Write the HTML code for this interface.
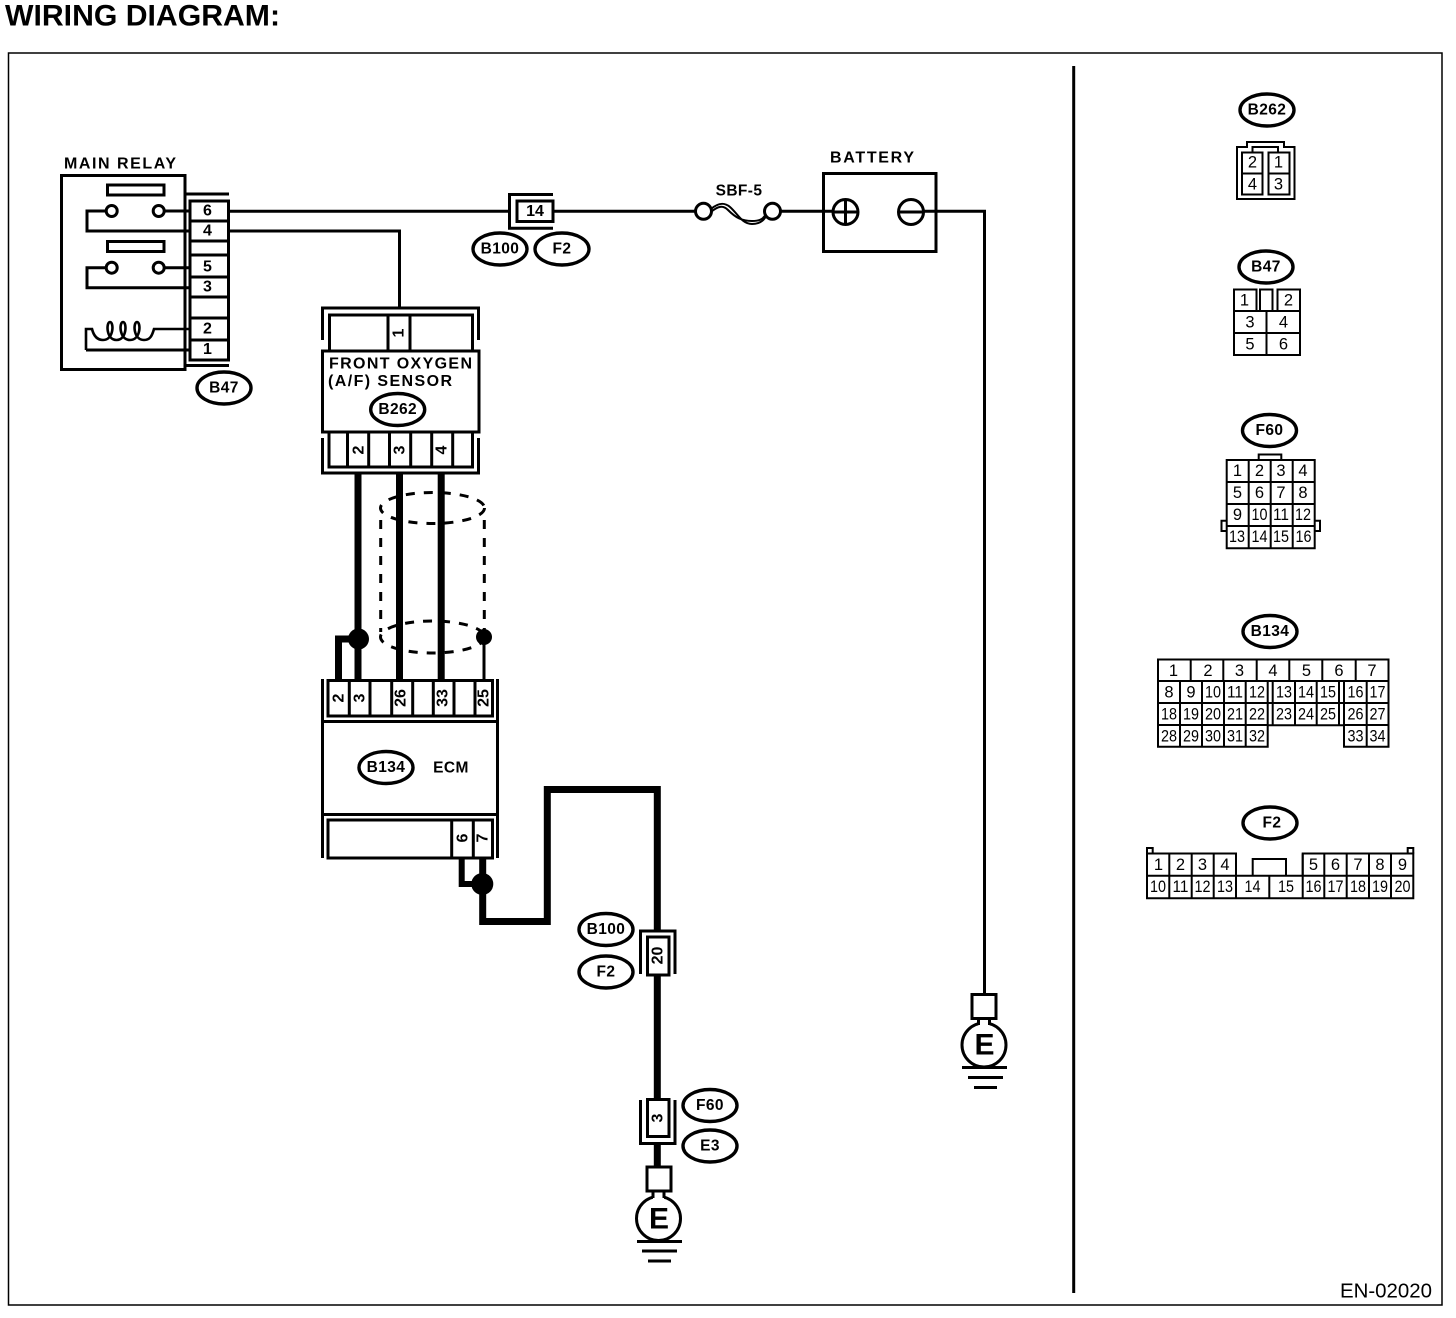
<!DOCTYPE html>
<html>
<head>
<meta charset="utf-8">
<style>
html,body{margin:0;padding:0;background:#fff;}
svg{display:block;}
text{font-family:"Liberation Sans",sans-serif;fill:#000;stroke:none;}
.b{font-weight:bold;font-size:15.5px;letter-spacing:0.4px;text-anchor:middle;dominant-baseline:central;}
.n{font-size:16.5px;text-anchor:middle;dominant-baseline:central;}
.c{font-weight:bold;font-size:16px;text-anchor:middle;dominant-baseline:central;}
.l{font-weight:bold;font-size:16px;}
.g{fill:none;stroke:#000;stroke-width:2;}
.s{fill:#fff;stroke:#000;stroke-width:3;}
.w{fill:none;stroke:#000;stroke-width:3;}
.t{fill:none;stroke:#000;stroke-width:7;}
.o{fill:#fff;stroke:#000;stroke-width:3.4;}
</style>
</head>
<body>
<svg width="1456" height="1318" viewBox="0 0 1456 1318" xmlns="http://www.w3.org/2000/svg">
<rect width="1456" height="1318" fill="#fff"/>
<text x="5" y="25.5" font-size="29.5" font-weight="bold" textLength="275" lengthAdjust="spacingAndGlyphs">WIRING DIAGRAM:</text>
<rect x="8.5" y="53" width="1433.5" height="1252" fill="none" stroke="#000" stroke-width="1.5"/>
<line x1="1073.7" y1="66" x2="1073.7" y2="1293" stroke="#000" stroke-width="3"/>
<text x="1340" y="1297.5" font-size="20" textLength="92" lengthAdjust="spacingAndGlyphs">EN-02020</text>

<!-- Main relay -->
<text x="64" y="168.5" class="l" textLength="112" lengthAdjust="spacing">MAIN RELAY</text>
<rect x="61.5" y="175.5" width="123.5" height="194" class="s"/>
<rect x="107.5" y="185" width="56.5" height="10" class="s"/>
<rect x="107.5" y="241.5" width="56.5" height="10" class="s"/>
<path class="w" d="M105,211H87V231H190M164,211H190"/>
<path class="w" d="M105,267.7H87V287.7H190M164,267.7H190"/>
<circle cx="111.7" cy="211" r="5.5" class="s"/>
<circle cx="158.7" cy="211" r="5.5" class="s"/>
<circle cx="111.7" cy="267.7" r="5.5" class="s"/>
<circle cx="158.7" cy="267.7" r="5.5" class="s"/>
<path fill="none" stroke="#000" stroke-width="2.6" d="M86,350V329H92C94,337 98,340 103,340C114,340 114,322 110,322C106,322 106,340 116.5,340C127,340 127,322 123,322C119,322 119,340 130,340C141,340 141,322 137,322C133,322 133,340 144,340C150,340 152,336 154,329H189"/>
<path class="w" d="M86,350H190"/>
<path class="w" d="M185,194H229M185,365.5H229"/>
<rect x="190" y="201" width="38.5" height="159" class="s"/>
<path class="w" d="M190,221H229M190,241H229M190,255H229M190,277H229M190,297H229M190,318H229M190,340H229"/>
<text x="207.5" y="211" class="c">6</text>
<text x="207.5" y="231" class="c">4</text>
<text x="207.5" y="267" class="c">5</text>
<text x="207.5" y="287" class="c">3</text>
<text x="207.5" y="329" class="c">2</text>
<text x="207.5" y="349.5" class="c">1</text>
<ellipse cx="224" cy="388" rx="27" ry="16" class="o"/>
<text x="224" y="388" class="b">B47</text>

<!-- wires top -->
<path class="w" d="M229,211.3H510M550,211.3H696M772,211.3H846M911,211.3H984.5V994M229,231H399.5V308"/>
<path class="w" d="M553,194.5H509.5V228.3H553"/>
<rect x="517" y="201" width="36" height="20.5" class="s"/>
<text x="535" y="211.5" class="c">14</text>
<ellipse cx="500" cy="249" rx="27" ry="16" class="o"/>
<text x="500" y="249" class="b">B100</text>
<ellipse cx="562" cy="249" rx="27" ry="16" class="o"/>
<text x="562" y="249" class="b">F2</text>

<!-- fuse -->
<text x="739" y="191" class="b" font-size="16" letter-spacing="1">SBF-5</text>
<path class="g" d="M711,209C718,203 724,202 730,207C738,214 742,224 752,224C758,224 763,222 766,216"/>
<path class="g" d="M711,212C718,206 723,205 728,210C736,218 742,221 752,221C758,221 763,220 766,214"/>
<circle cx="703.5" cy="211.3" r="8" class="s"/>
<circle cx="772.5" cy="211.3" r="8" class="s"/>

<!-- battery -->
<text x="830" y="162.5" class="l" textLength="84" lengthAdjust="spacing">BATTERY</text>
<rect x="823.5" y="173.5" width="112.5" height="78" class="w"/>
<circle cx="845.5" cy="212" r="12.5" class="s"/>
<path class="w" d="M845.5,199.5V224.5M833,212H858"/>
<circle cx="911" cy="212" r="12.5" class="s"/>
<path class="w" d="M898.5,212H923.5"/>

<!-- sensor -->
<path class="w" d="M322.5,340V308H478.5V340"/>
<rect x="329.5" y="315" width="143" height="36" class="s"/>
<path class="w" d="M388,315V351M410,315V351"/>
<text x="399" y="333" class="c" transform="rotate(-90 399 333)">1</text>
<rect x="322.5" y="351" width="156.5" height="81" class="s"/>
<text x="329" y="368.5" class="l" textLength="143" lengthAdjust="spacing">FRONT OXYGEN</text>
<text x="328" y="386" class="l" textLength="124" lengthAdjust="spacing">(A/F) SENSOR</text>
<ellipse cx="397.7" cy="409.5" rx="27" ry="16" class="o"/>
<text x="397.7" y="409.5" class="b">B262</text>
<path class="w" d="M322.5,438V473H478.5V438"/>
<rect x="329" y="432" width="143.5" height="35" class="s"/>
<path class="w" d="M347.5,432V467M368.7,432V467M389.5,432V467M410.7,432V467M431.7,432V467M452.7,432V467"/>
<text x="359" y="450" class="c" transform="rotate(-90 359 450)">2</text>
<text x="400" y="450" class="c" transform="rotate(-90 400 450)">3</text>
<text x="442" y="450" class="c" transform="rotate(-90 442 450)">4</text>

<!-- thick wires and shield -->
<path class="t" d="M358,474V681M399.5,474V681M441.2,474V681M338.5,681V639H358"/>
<g fill="none" stroke="#000" stroke-width="3" stroke-dasharray="9 9">
<ellipse cx="432.5" cy="508" rx="52" ry="15.5"/>
<ellipse cx="432.5" cy="637" rx="52" ry="16"/>
<path d="M380.7,520V632M484.3,520V632"/>
</g>
<circle cx="358.5" cy="639" r="10.5" fill="#000"/>
<circle cx="484" cy="637" r="8" fill="#000"/>
<path class="w" d="M484,637V681"/>

<!-- ECM -->
<path class="w" d="M322.5,679V722M497.5,679V722"/>
<rect x="328" y="680.5" width="164.5" height="35.5" class="s"/>
<path class="w" d="M349.3,680V716M370,680V716M391.7,680V716M412.7,680V716M433.3,680V716M454,680V716M475,680V716"/>
<text x="339" y="698" class="c" transform="rotate(-90 339 698)">2</text>
<text x="360" y="698" class="c" transform="rotate(-90 360 698)">3</text>
<text x="401" y="698" class="c" transform="rotate(-90 401 698)">26</text>
<text x="443" y="698" class="c" transform="rotate(-90 443 698)">33</text>
<text x="484" y="698" class="c" transform="rotate(-90 484 698)">25</text>
<rect x="322.5" y="721.5" width="175" height="93" class="s"/>
<ellipse cx="386" cy="767.5" rx="27" ry="16" class="o"/>
<text x="386" y="767.5" class="b">B134</text>
<text x="451" y="768" class="b" letter-spacing="0.8">ECM</text>
<path class="w" d="M322.5,814V858M497.5,814V858"/>
<rect x="328" y="820" width="164.5" height="38" class="s"/>
<path class="w" d="M451.7,820V858M473.3,820V858"/>
<text x="463" y="838" class="c" transform="rotate(-90 463 838)">6</text>
<text x="483" y="838" class="c" transform="rotate(-90 483 838)">7</text>
<path class="t" d="M482.7,859V921.5H547.3V789.5H657.3V931"/>
<path fill="none" stroke="#000" stroke-width="6" d="M461.7,859V884H482"/>
<circle cx="482.3" cy="884" r="11" fill="#000"/>

<!-- left ground path -->
<path class="t" d="M657.3,975V1100M657.3,1144V1167"/>
<path class="w" d="M640.5,974V931H675V974"/>
<rect x="647.5" y="937" width="21.5" height="38" class="s"/>
<text x="658" y="955.5" class="c" transform="rotate(-90 658 955.5)">20</text>
<ellipse cx="606" cy="929.5" rx="27" ry="16" class="o"/>
<text x="606" y="929.5" class="b">B100</text>
<ellipse cx="606" cy="972" rx="27" ry="16" class="o"/>
<text x="606" y="972" class="b">F2</text>
<path class="w" d="M640.5,1100V1143.5H675V1100"/>
<rect x="647.5" y="1099.5" width="21.5" height="37" class="s"/>
<text x="658" y="1118" class="c" transform="rotate(-90 658 1118)">3</text>
<ellipse cx="710" cy="1105.5" rx="27" ry="16" class="o"/>
<text x="710" y="1105.5" class="b">F60</text>
<ellipse cx="710" cy="1146" rx="27" ry="16" class="o"/>
<text x="710" y="1146" class="b">E3</text>

<!-- grounds -->
<g>
<circle cx="658.5" cy="1218.5" r="22" class="s"/>
<rect x="653" y="1188" width="11" height="12" fill="#fff"/>
<path class="w" d="M653,1190V1198M664,1190V1198"/>
<rect x="647" y="1167" width="24" height="24" class="s"/>
<text x="659" y="1219" font-size="30" font-weight="bold" text-anchor="middle" dominant-baseline="central">E</text>
<path class="w" d="M637,1241.5H682M642,1251H677M648,1261H671"/>
</g>
<g>
<circle cx="984" cy="1045" r="22" class="s"/>
<rect x="978.5" y="1015" width="11" height="12" fill="#fff"/>
<path class="w" d="M978.5,1017V1025M989.5,1017V1025"/>
<rect x="972" y="994.5" width="24" height="24" class="s"/>
<text x="984.5" y="1045" font-size="30" font-weight="bold" text-anchor="middle" dominant-baseline="central">E</text>
<path class="w" d="M962,1067.5H1007M968,1077.5H1003M974,1087.5H997"/>
</g>

<!-- B262 connector -->
<ellipse cx="1267" cy="110" rx="27" ry="16" class="o"/>
<text x="1267" y="110" class="b">B262</text>
<path class="g" d="M1237,199V147H1247V142H1284V147H1294.5V199ZM1252.5,152V147H1278V152"/>
<path class="g" d="M1242,152.5H1262.5V194.5H1242ZM1242,173.5H1262.5M1268.5,152.5H1289.5V194.5H1268.5ZM1268.5,173.5H1289.5"/>
<text x="1252.5" y="162.5" class="n">2</text>
<text x="1278.5" y="162.5" class="n">1</text>
<text x="1252.5" y="184.5" class="n">4</text>
<text x="1278.5" y="184.5" class="n">3</text>

<!-- B47 connector -->
<ellipse cx="1266" cy="267" rx="27" ry="16" class="o"/>
<text x="1266" y="267" class="b">B47</text>
<path class="g" d="M1234,289.5H1256.5V311H1234ZM1260,311V289.5H1272.5V311M1277.5,311V289.5H1300V311M1234,311H1300V355H1234ZM1234,333H1300M1266.5,311V355"/>
<text x="1244.5" y="300.5" class="n">1</text>
<text x="1288.5" y="300.5" class="n">2</text>
<text x="1250" y="322.5" class="n">3</text>
<text x="1283.5" y="322.5" class="n">4</text>
<text x="1250" y="344.5" class="n">5</text>
<text x="1283.5" y="344.5" class="n">6</text>

<!-- F60 connector -->
<ellipse cx="1269.5" cy="430.5" rx="27" ry="16" class="o"/>
<text x="1269.5" y="430.5" class="b">F60</text>
<path class="g" d="M1258.7,460V454.5H1281.3V460M1226.7,520.7H1221.5V531H1226.7M1314.7,520.7H1320V531H1314.7"/>
<path class="g" d="M1226.7,460H1314.7V548.3H1226.7ZM1226.7,482H1314.7M1226.7,504H1314.7M1226.7,526H1314.7M1248.7,460V548.3M1270.7,460V548.3M1292.7,460V548.3"/>
<text x="1237.5" y="471" class="n">1</text><text x="1259.5" y="471" class="n">2</text><text x="1281" y="471" class="n">3</text><text x="1303" y="471" class="n">4</text>
<text x="1237.5" y="493" class="n">5</text><text x="1259.5" y="493" class="n">6</text><text x="1281" y="493" class="n">7</text><text x="1303" y="493" class="n">8</text>
<text x="1237.5" y="515" class="n">9</text><text x="1259.5" y="515" class="n" textLength="16" lengthAdjust="spacingAndGlyphs">10</text><text x="1281" y="515" class="n" textLength="16" lengthAdjust="spacingAndGlyphs">11</text><text x="1303" y="515" class="n" textLength="16" lengthAdjust="spacingAndGlyphs">12</text>
<text x="1237" y="537" class="n" textLength="16" lengthAdjust="spacingAndGlyphs">13</text><text x="1259.5" y="537" class="n" textLength="16" lengthAdjust="spacingAndGlyphs">14</text><text x="1281" y="537" class="n" textLength="16" lengthAdjust="spacingAndGlyphs">15</text><text x="1303.5" y="537" class="n" textLength="16" lengthAdjust="spacingAndGlyphs">16</text>

<!-- B134 connector -->
<ellipse cx="1270" cy="631.5" rx="27" ry="16" class="o"/>
<text x="1270" y="631.5" class="b">B134</text>
<path class="g" d="M1158,659.5H1388.5V746.7H1344V725.3H1267.7V746.7H1158ZM1158,681H1388.5M1158,703H1388.5M1158,725H1267.7M1344,725H1388.5"/>
<path class="g" d="M1190.7,659.5V681M1223.3,659.5V681M1256.7,659.5V681M1289.3,659.5V681M1322.3,659.5V681M1355.7,659.5V681"/>
<path class="g" d="M1180,681V746.7M1202,681V746.7M1224,681V746.7M1245.7,681V746.7M1267.7,681V725M1272.7,681V725M1295,681V725M1316.7,681V725M1339,681V725M1344,681V725M1366.7,681V746.7"/>
<text x="1173.5" y="671" class="n">1</text><text x="1208" y="671" class="n">2</text><text x="1239.5" y="671" class="n">3</text><text x="1273" y="671" class="n">4</text><text x="1306.5" y="671" class="n">5</text><text x="1339" y="671" class="n">6</text><text x="1372" y="671" class="n">7</text>
<text x="1169" y="692.5" class="n">8</text><text x="1191" y="692.5" class="n">9</text><text x="1213" y="692.5" class="n" textLength="16" lengthAdjust="spacingAndGlyphs">10</text><text x="1235" y="692.5" class="n" textLength="16" lengthAdjust="spacingAndGlyphs">11</text><text x="1257" y="692.5" class="n" textLength="16" lengthAdjust="spacingAndGlyphs">12</text><text x="1284" y="692.5" class="n" textLength="16" lengthAdjust="spacingAndGlyphs">13</text><text x="1306" y="692.5" class="n" textLength="16" lengthAdjust="spacingAndGlyphs">14</text><text x="1328" y="692.5" class="n" textLength="16" lengthAdjust="spacingAndGlyphs">15</text><text x="1355.5" y="692.5" class="n" textLength="16" lengthAdjust="spacingAndGlyphs">16</text><text x="1377.5" y="692.5" class="n" textLength="16" lengthAdjust="spacingAndGlyphs">17</text>
<text x="1169" y="714.5" class="n" textLength="16" lengthAdjust="spacingAndGlyphs">18</text><text x="1191" y="714.5" class="n" textLength="16" lengthAdjust="spacingAndGlyphs">19</text><text x="1213" y="714.5" class="n" textLength="16" lengthAdjust="spacingAndGlyphs">20</text><text x="1235" y="714.5" class="n" textLength="16" lengthAdjust="spacingAndGlyphs">21</text><text x="1257" y="714.5" class="n" textLength="16" lengthAdjust="spacingAndGlyphs">22</text><text x="1284" y="714.5" class="n" textLength="16" lengthAdjust="spacingAndGlyphs">23</text><text x="1306" y="714.5" class="n" textLength="16" lengthAdjust="spacingAndGlyphs">24</text><text x="1328" y="714.5" class="n" textLength="16" lengthAdjust="spacingAndGlyphs">25</text><text x="1355.5" y="714.5" class="n" textLength="16" lengthAdjust="spacingAndGlyphs">26</text><text x="1377.5" y="714.5" class="n" textLength="16" lengthAdjust="spacingAndGlyphs">27</text>
<text x="1169" y="736.5" class="n" textLength="16" lengthAdjust="spacingAndGlyphs">28</text><text x="1191" y="736.5" class="n" textLength="16" lengthAdjust="spacingAndGlyphs">29</text><text x="1213" y="736.5" class="n" textLength="16" lengthAdjust="spacingAndGlyphs">30</text><text x="1235" y="736.5" class="n" textLength="16" lengthAdjust="spacingAndGlyphs">31</text><text x="1257" y="736.5" class="n" textLength="16" lengthAdjust="spacingAndGlyphs">32</text><text x="1355.5" y="736.5" class="n" textLength="16" lengthAdjust="spacingAndGlyphs">33</text><text x="1377.5" y="736.5" class="n" textLength="16" lengthAdjust="spacingAndGlyphs">34</text>

<!-- F2 connector -->
<ellipse cx="1270" cy="823" rx="27" ry="16" class="o"/>
<text x="1272" y="823" class="b">F2</text>
<path class="g" d="M1147,853.5V848H1152.7V853.5M1407.7,853.5V848H1413.3V853.5"/>
<path class="g" d="M1147,853.5H1236V875.7H1302.7V853.5H1413.3V898.3H1147ZM1147,875.7H1236M1302.7,875.7H1413.3M1252.7,875.7V859H1286V875.7M1236,875.7H1302.7"/>
<path class="g" d="M1169.3,853.5V898.3M1191.7,853.5V898.3M1213.7,853.5V898.3M1236,853.5V898.3M1302.7,853.5V898.3M1324.3,853.5V898.3M1346.7,853.5V898.3M1369,853.5V898.3M1391,853.5V898.3M1269.3,875.7V898.3"/>
<text x="1158.5" y="865" class="n">1</text><text x="1180.5" y="865" class="n">2</text><text x="1202.5" y="865" class="n">3</text><text x="1225" y="865" class="n">4</text><text x="1313.5" y="865" class="n">5</text><text x="1335.5" y="865" class="n">6</text><text x="1358" y="865" class="n">7</text><text x="1380" y="865" class="n">8</text><text x="1402.5" y="865" class="n">9</text>
<text x="1158" y="887" class="n" textLength="16" lengthAdjust="spacingAndGlyphs">10</text><text x="1180.5" y="887" class="n" textLength="16" lengthAdjust="spacingAndGlyphs">11</text><text x="1202.5" y="887" class="n" textLength="16" lengthAdjust="spacingAndGlyphs">12</text><text x="1225" y="887" class="n" textLength="16" lengthAdjust="spacingAndGlyphs">13</text><text x="1252.5" y="887" class="n" textLength="16" lengthAdjust="spacingAndGlyphs">14</text><text x="1286" y="887" class="n" textLength="16" lengthAdjust="spacingAndGlyphs">15</text><text x="1313.5" y="887" class="n" textLength="16" lengthAdjust="spacingAndGlyphs">16</text><text x="1335.5" y="887" class="n" textLength="16" lengthAdjust="spacingAndGlyphs">17</text><text x="1358" y="887" class="n" textLength="16" lengthAdjust="spacingAndGlyphs">18</text><text x="1380" y="887" class="n" textLength="16" lengthAdjust="spacingAndGlyphs">19</text><text x="1402.5" y="887" class="n" textLength="16" lengthAdjust="spacingAndGlyphs">20</text>
</svg>
</body>
</html>
